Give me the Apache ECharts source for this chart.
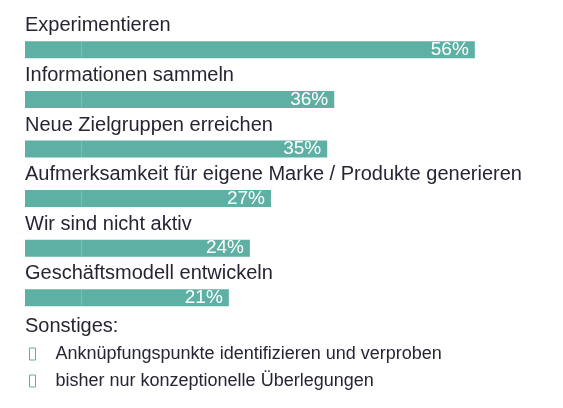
<!DOCTYPE html>
<html>
<head>
<meta charset="utf-8">
<script src="https://cdn.jsdelivr.net/npm/echarts@6/dist/echarts.min.js"></script>
<style>html,body{margin:0;padding:0;background:#fff}#main{width:563px;height:408px}</style>
</head>
<body>
<div id="main"></div>
<script>
var categories = ['Experimentieren', 'Informationen sammeln', 'Neue Zielgruppen erreichen',
  'Aufmerksamkeit für eigene Marke / Produkte generieren', 'Wir sind nicht aktiv', 'Geschäftsmodell entwickeln'];
var values = [56, 36, 35, 27, 24, 21];
var otherItems = ['Anknüpfungspunkte identifizieren und verproben', 'bisher nur konzeptionelle Überlegungen'];

// Balken beginnen mit einem Sockel (Mindestlänge)
var baseOffset = 8;
var base = values.map(function () { return baseOffset; });

var myChart = echarts.init(document.getElementById('main'));
var font = 'Liberation Sans, Arial, sans-serif';
var teal = '#5fb0a4';
var option = {
  animation: false,
  grid: { left: 25, right: 46, top: 25, height: 297.6 },
  xAxis: { type: 'value', min: 0, max: 70, show: false },
  yAxis: {
    type: 'category', inverse: true, data: categories,
    axisLine: { show: false }, axisTick: { show: false },
    axisLabel: {
      inside: true, margin: 0, color: '#262633', fontSize: 20, fontFamily: font,
      verticalAlign: 'bottom', lineHeight: 48
    }
  },
  series: [
    { type: 'bar', stack: 'a', data: base, barWidth: 17, itemStyle: { color: teal }, silent: true },
    {
      type: 'bar', stack: 'a', data: values, barWidth: 17,
      itemStyle: { color: teal },
      label: {
        show: true, position: 'insideRight', distance: 6, color: '#fff',
        fontSize: 19, fontFamily: font, formatter: '{c}%'
      }
    }
  ],
  graphic: [
    { type: 'text', left: 25, top: 316, style: { text: 'Sonstiges:', fontSize: 20, fontFamily: font, fill: '#262633' } }
  ].concat(otherItems.map(function (t, i) {
    return { type: 'group', left: 27, top: 345 + i * 27, children: [
      { type: 'rect', shape: { x: 2, y: 3, width: 6, height: 12 }, style: { fill: 'none', stroke: teal, lineWidth: 1 } },
      { type: 'text', x: 28, y: 0, style: { text: t, fontSize: 18, fontFamily: font, fill: '#262633' } }
    ] };
  }))
};
myChart.setOption(option);
</script>
</body>
</html>
